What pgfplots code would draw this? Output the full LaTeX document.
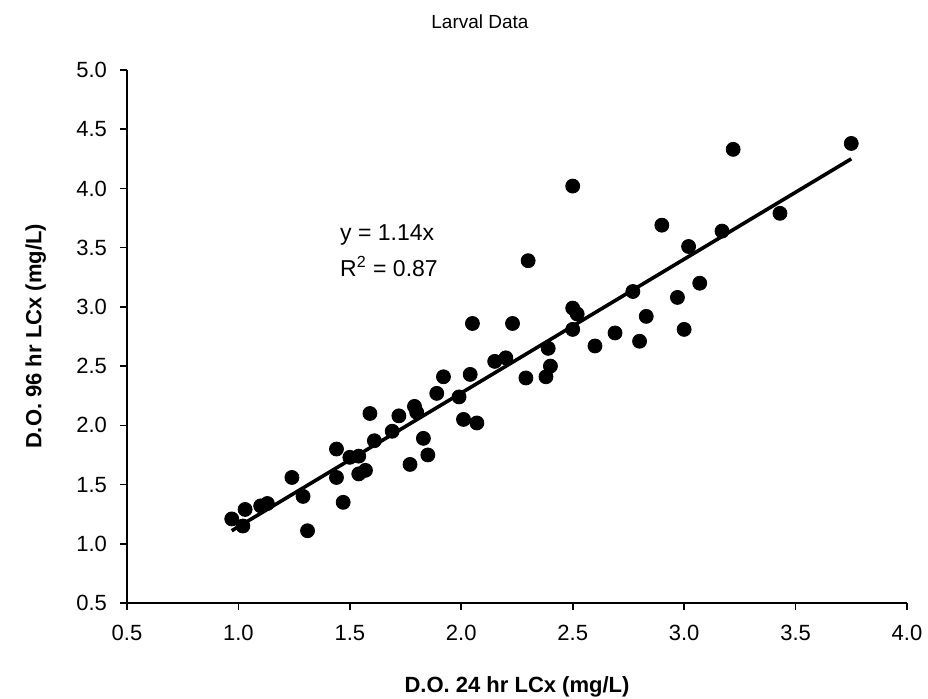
\documentclass[border=0pt]{standalone}
\usepackage{fontspec}
\setmainfont{Liberation Sans}
\usepackage{pgfplots}
\pgfplotsset{compat=1.18}
\begin{document}
\begin{tikzpicture}
\useasboundingbox (-63.5pt,-47.5pt) rectangle (400.5pt,301.5pt);
\begin{axis}[
  at={(0pt,0pt)}, anchor=south west,
  scale only axis, width=390pt, height=266.5pt,
  xmin=0.5, xmax=4.0, ymin=0.5, ymax=5.0,
  xtick={0.5,1.0,...,4.0}, ytick={0.5,1.0,...,5.0},
  axis x line*=bottom, axis y line*=left,
  axis line style={line width=1pt, -},
  tick align=outside, major tick length=3.5pt,
  tick style={line width=0.8pt, black},
  /pgf/number format/assume math mode=true,
  /pgf/number format/.cd, fixed, fixed zerofill, precision=1, /pgfplots/.cd,
  ticklabel style={font=\fontsize{11}{13}\selectfont},
  xticklabel style={yshift=-4pt},
  yticklabel style={xshift=-3pt},
  xlabel={\textbf{D.O. 24 hr LCx (mg/L)}},
  ylabel={\textbf{D.O. 96 hr LCx (mg/L)}},
  label style={font=\fontsize{11}{13}\selectfont},
  xlabel style={at={(axis description cs:0.5,0)}, anchor=north, yshift=-33pt},
  ylabel style={at={(axis description cs:0,0.5)}, anchor=south, yshift=37pt},
  clip=false,
]
\addplot[only marks, mark=*, mark size=3.5pt, black] coordinates {
(0.97,1.21) (1.02,1.15) (1.03,1.29) (1.10,1.32) (1.13,1.34)
(1.24,1.56) (1.29,1.40) (1.31,1.11) (1.44,1.80) (1.44,1.56)
(1.47,1.35) (1.50,1.73) (1.54,1.74) (1.54,1.59) (1.57,1.62)
(1.59,2.10) (1.61,1.87) (1.69,1.95) (1.72,2.08) (1.77,1.67)
(1.79,2.16) (1.80,2.11) (1.83,1.89) (1.85,1.75) (1.89,2.27)
(1.92,2.41) (1.99,2.24) (2.01,2.05) (2.04,2.43) (2.05,2.86)
(2.07,2.02) (2.15,2.54) (2.20,2.57) (2.23,2.86) (2.29,2.40)
(2.30,3.39) (2.38,2.41) (2.40,2.50) (2.39,2.65) (2.50,4.02)
(2.50,2.99) (2.52,2.94) (2.50,2.81) (2.60,2.67) (2.69,2.78)
(2.77,3.13) (2.80,2.71) (2.83,2.92) (2.90,3.69) (2.97,3.08)
(3.00,2.81) (3.02,3.51) (3.07,3.20) (3.17,3.64) (3.22,4.33)
(3.43,3.79) (3.75,4.38)
};
\addplot[black, line width=1.8pt, no marks] coordinates {(0.97,1.11) (3.75,4.25)};
\node[anchor=west, font=\fontsize{11.5}{14}\selectfont, inner sep=0pt] at (axis cs:1.455,3.61) {y = 1.14x};
\node[anchor=west, font=\fontsize{11.5}{14}\selectfont, inner sep=0pt] at (axis cs:1.455,3.34) {R\textsuperscript{2} = 0.87};
\end{axis}
\node[font=\fontsize{9.5}{12}\selectfont] at (176.5pt,290.5pt) {Larval Data};
\end{tikzpicture}
\end{document}
